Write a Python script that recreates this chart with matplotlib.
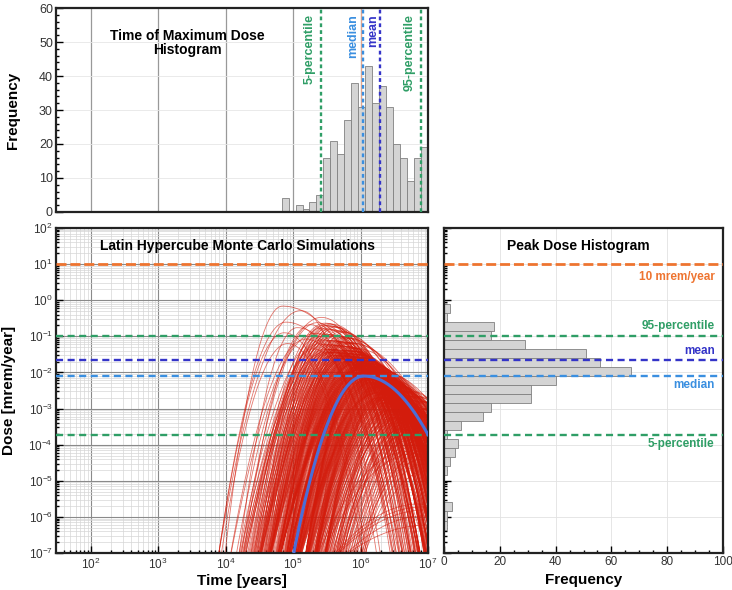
import numpy as np
import matplotlib
matplotlib.use('Agg')
import matplotlib.pyplot as plt
from matplotlib.ticker import MultipleLocator, LogLocator, NullFormatter

plt.rcParams['font.family'] = ['Liberation Sans', 'DejaVu Sans']
plt.rcParams['mathtext.fontset'] = 'custom'
plt.rcParams['mathtext.rm'] = 'Liberation Sans'

# time of maximum dose histogram (bins in log10 years)
time_lo = 4.83
time_width = 0.1033
time_counts = [4, 0, 2, 1, 3, 5, 16, 21, 17, 27, 38, 31, 43, 32, 37, 31, 20, 16, 9, 16, 19]
time_stats = {'5-percentile': 5.42, 'median': 6.04, 'mean': 6.29, '95-percentile': 6.89}

# peak dose histogram (bins in log10 mrem/year, from the top down)
dose_top = -0.1
dose_width = 0.25
dose_counts = [2, 1, 18, 17, 29, 51, 56, 67, 40, 31, 31, 17, 14, 6, 1, 5, 4, 2, 1,
               0, 0, 0, 3, 1, 1]
dose_limit = 10.0
dose_stats = {'95-percentile': 0.105, 'mean': 0.022, 'median': 0.0079, '5-percentile': 1.8e-4}

# the highlighted (median) realisation: peak time, peak dose (log10)
median_peak_t = 6.05
median_peak_d = -2.1
earliest_start = 3.9   # log10 years where the first curves leave 1e-7

green = '#2f9e66'
colors = {'5-percentile': green, '95-percentile': green, 'median': '#3a8fe0',
          'mean': '#3434c8'}
orange = '#ee7430'

fig = plt.figure(figsize=(7.32, 5.90), dpi=100)
ax_t = fig.add_axes([0.077, 0.6407, 0.5077, 0.3457])
ax_c = fig.add_axes([0.077, 0.0627, 0.5077, 0.5509])
ax_h = fig.add_axes([0.6066, 0.0627, 0.3811, 0.5509])

for a in (ax_t, ax_c, ax_h):
    for s in a.spines.values():
        s.set_linewidth(1.6)
        s.set_color('#222222')
    a.tick_params(direction='in', which='both', labelsize=8.5, labelcolor='#333333',
                  width=1.0, pad=2.5)
    a.tick_params(which='major', length=5)
    a.tick_params(which='minor', length=2.5)

# ---- top: time of maximum dose histogram
t_edges = time_lo + time_width * np.arange(len(time_counts) + 1)
ax_t.bar(10 ** t_edges[:-1], time_counts, width=10 ** t_edges[1:] - 10 ** t_edges[:-1],
         align='edge', color='#d4d4d4', edgecolor='#808080', linewidth=0.6, zorder=2)
ax_t.set_xscale('log')
ax_t.set_xlim(31, 1e7)
ax_t.set_ylim(0, 60)
ax_t.yaxis.set_major_locator(MultipleLocator(10))
ax_t.yaxis.set_minor_locator(MultipleLocator(2))
ax_t.set_xticks([1e2, 1e3, 1e4, 1e5, 1e6])
ax_t.xaxis.set_minor_locator(plt.NullLocator())
ax_t.set_xticklabels([])
ax_t.tick_params(axis='x', length=0)
ax_t.tick_params(axis='y', labelsize=9)
ax_t.grid(axis='x', color='#999999', lw=0.9, zorder=0)
ax_t.grid(axis='y', color='#e6e6e6', lw=0.6, zorder=0)
ax_t.set_axisbelow(True)
ax_t.axvline(1e6, color='#e6a58c', lw=0.8, zorder=1)
label_shift = {'5-percentile': -12, 'median': -10, 'mean': -7, '95-percentile': -11}
for name, val in time_stats.items():
    ax_t.axvline(10 ** val, color=colors[name], lw=1.7, ls=(0, (1.6, 1.3)), zorder=3)
    ax_t.annotate(name, xy=(10 ** val, 58.2), xytext=(label_shift[name], 0),
                  textcoords='offset pixels', rotation=90, ha='center', va='top',
                  color=colors[name], fontsize=9, fontweight='bold')
ax_t.text(0.352, 0.83, 'Time of Maximum Dose\nHistogram', transform=ax_t.transAxes,
          ha='center', va='center', fontsize=10, fontweight='bold', linespacing=1.0)
ax_t.set_ylabel('Frequency', fontsize=11, fontweight='bold')
ax_t.yaxis.set_label_coords(-0.097, 0.5)

# ---- bottom left: Monte Carlo dose curves
peak_t = []
for k, n in enumerate(time_counts):
    for j in range(n):
        peak_t.append(t_edges[k] + (j + 0.5) / n * time_width)
peak_d = []
for k, n in enumerate(dose_counts):
    hi = dose_top - k * dose_width
    for j in range(n):
        peak_d.append(hi - (j + 0.5) / n * dose_width)
peak_t = np.array(peak_t)
peak_d = np.array(peak_d)
n_t, n_d = len(peak_t), len(peak_d)
idx = np.arange(n_t)
mix = (idx * 0.6180340) % 1.0 - 0.5
order = np.argsort(idx / n_t + 0.35 * mix)
rank = np.empty(n_t)
rank[order] = idx
dose_for_t = peak_d[np.round(rank / (n_t - 1) * (n_d - 1)).astype(int)]
rise = np.minimum(0.85 + 0.5 * ((idx * 0.7548777) % 1.0), peak_t - earliest_start)
fall = 1.5 + 4.5 * ((idx * 0.5698403) % 1.0)

x = np.linspace(1.5, 7.0, 320)
for tp, dp, r, f in zip(peak_t, dose_for_t, rise, fall):
    a_l = (dp + 7.0) / r ** 2
    y = np.where(x < tp, dp - a_l * (x - tp) ** 2, dp - f * (x - tp) ** 2)
    ax_c.plot(10 ** x, 10 ** np.maximum(y, -9), color='#d31c0c', lw=0.6, alpha=0.6,
              zorder=2)
a_l = (median_peak_d + 7.0) / 1.04 ** 2
y = np.where(x < median_peak_t, median_peak_d - a_l * (x - median_peak_t) ** 2,
             median_peak_d - 1.8 * (x - median_peak_t) ** 2)
ax_c.plot(10 ** x, 10 ** np.maximum(y, -9), color='#4a6ed8', lw=2.2, zorder=5)

ax_c.set_xscale('log')
ax_c.set_yscale('log')
ax_c.set_xlim(31, 1e7)
ax_c.set_ylim(1e-7, 1e2)
ax_c.xaxis.set_major_locator(LogLocator(base=10, numticks=20))
ax_c.xaxis.set_minor_locator(LogLocator(base=10, subs=np.arange(2, 10), numticks=20))
ax_c.yaxis.set_major_locator(LogLocator(base=10, numticks=20))
ax_c.yaxis.set_minor_locator(LogLocator(base=10, subs=np.arange(2, 10), numticks=20))
ax_c.xaxis.set_minor_formatter(NullFormatter())
ax_c.yaxis.set_minor_formatter(NullFormatter())
ax_c.grid(which='major', color='#8a8a8a', lw=0.8)
ax_c.grid(which='minor', color='#d6d6d6', lw=0.5)
ax_c.set_axisbelow(True)

ax_c.axhline(dose_limit, color=orange, lw=2.0, ls=(0, (3.6, 1.4)), zorder=4)
for name, val in dose_stats.items():
    ax_c.axhline(val, color=colors[name], lw=1.7, ls=(0, (3.0, 1.9)), zorder=4)
ax_c.text(0.488, 0.945, 'Latin Hypercube Monte Carlo Simulations',
          transform=ax_c.transAxes, ha='center', va='center', fontsize=10,
          fontweight='bold')
ax_c.set_xlabel('Time [years]', fontsize=11, fontweight='bold')
ax_c.set_ylabel('Dose [mrem/year]', fontsize=11, fontweight='bold')
ax_c.xaxis.set_label_coords(0.5, -0.064)
ax_c.yaxis.set_label_coords(-0.108, 0.5)

# ---- bottom right: peak dose histogram
d_hi = dose_top - dose_width * np.arange(len(dose_counts))
d_lo = d_hi - dose_width
ax_h.barh(10 ** d_lo, dose_counts, height=10 ** d_hi - 10 ** d_lo, align='edge',
          color='#d4d4d4', edgecolor='#808080', linewidth=0.6, zorder=2)
ax_h.set_yscale('log')
ax_h.set_ylim(1e-7, 1e2)
ax_h.set_xlim(0, 100)
ax_h.xaxis.set_major_locator(MultipleLocator(20))
ax_h.xaxis.set_minor_locator(MultipleLocator(5))
ax_h.yaxis.set_major_locator(LogLocator(base=10, numticks=20))
ax_h.yaxis.set_minor_locator(LogLocator(base=10, subs=np.arange(2, 10), numticks=20))
ax_h.tick_params(axis='y', labelleft=False)
ax_h.grid(which='major', color='#e2e2e2', lw=0.6)
ax_h.set_axisbelow(True)

ax_h.axhline(dose_limit, color=orange, lw=2.0, ls=(0, (3.6, 1.4)), zorder=4)
ax_h.annotate('10 mrem/year', xy=(97, dose_limit), xytext=(0, -13),
              textcoords='offset pixels', ha='right', va='center', color=orange,
              fontsize=8.5, fontweight='bold')
label_dy = {'95-percentile': 10, 'mean': 9, 'median': -9, '5-percentile': -9}
for name, val in dose_stats.items():
    ax_h.axhline(val, color=colors[name], lw=1.7, ls=(0, (3.0, 1.9)), zorder=4)
    ax_h.annotate(name, xy=(97, val), xytext=(0, label_dy[name]),
                  textcoords='offset pixels', ha='right', va='center',
                  color=colors[name], fontsize=8.5, fontweight='bold')
ax_h.text(0.48, 0.945, 'Peak Dose Histogram', transform=ax_h.transAxes,
          ha='center', va='center', fontsize=10, fontweight='bold')
ax_h.set_xlabel('Frequency', fontsize=11, fontweight='bold')
ax_h.xaxis.set_label_coords(0.5, -0.06)

fig.savefig('out.png', dpi=100)
